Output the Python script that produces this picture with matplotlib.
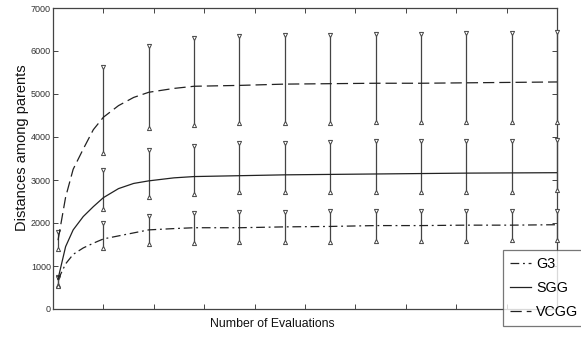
import matplotlib
matplotlib.use("Agg")
import matplotlib.pyplot as plt

plt.rcParams['font.family'] = ['Liberation Sans', 'DejaVu Sans']

# error-bar sample positions (number of evaluations)
eval_pts = [1000, 10000, 19000, 28000, 37000, 46000, 55000, 64000, 73000, 82000, 91000, 100000]

vcgg_lo = [1400, 3620, 4200, 4290, 4320, 4320, 4330, 4340, 4340, 4360, 4360, 4350]
vcgg_hi = [1800, 5620, 6110, 6300, 6350, 6380, 6370, 6390, 6390, 6420, 6420, 6440]
sgg_lo = [560, 2330, 2610, 2680, 2710, 2720, 2730, 2730, 2730, 2730, 2730, 2760]
sgg_hi = [750, 3240, 3690, 3800, 3870, 3870, 3880, 3900, 3900, 3900, 3900, 3920]
g3_lo = [540, 1420, 1520, 1540, 1560, 1560, 1560, 1580, 1590, 1590, 1610, 1600]
g3_hi = [720, 2000, 2170, 2240, 2260, 2260, 2270, 2290, 2290, 2290, 2290, 2290]

# mean curves
curve_x = [1000, 2500, 4000, 6000, 8000, 10000, 13000, 16000, 19000, 24000, 28000,
           37000, 46000, 55000, 64000, 73000, 82000, 91000, 100000]
vcgg_mean = [1600, 2600, 3250, 3720, 4170, 4460, 4730, 4920, 5040, 5130, 5180,
             5200, 5230, 5240, 5250, 5250, 5260, 5270, 5280]
sgg_mean = [700, 1450, 1840, 2150, 2380, 2590, 2800, 2920, 2980, 3050, 3080,
            3100, 3120, 3130, 3140, 3150, 3160, 3165, 3170]
g3_mean = [680, 1050, 1270, 1420, 1530, 1630, 1700, 1770, 1840, 1870, 1890,
           1890, 1910, 1920, 1940, 1940, 1950, 1950, 1960]

x_ticks = [0, 10000, 20000, 30000, 40000, 50000, 60000, 70000, 80000, 90000, 100000]
y_ticks = [0, 1000, 2000, 3000, 4000, 5000, 6000, 7000]

W, H = 581, 340
fig = plt.figure(figsize=(W / 100, H / 100), dpi=100)
ax = fig.add_axes([53 / W, 1 - 309 / H, (557 - 53) / W, (309 - 8) / H])

ink = '#222222'
bar_c = '#444444'

# error bars
for lo, hi in [(vcgg_lo, vcgg_hi), (sgg_lo, sgg_hi), (g3_lo, g3_hi)]:
    ax.vlines(eval_pts, lo, hi, colors=bar_c, linewidth=0.9, clip_on=False, zorder=2)
    ax.plot(eval_pts, hi, linestyle='none', marker='v', markersize=3.0,
            markerfacecolor='white', markeredgecolor=bar_c, markeredgewidth=0.7,
            clip_on=False, zorder=3)
    ax.plot(eval_pts, lo, linestyle='none', marker='^', markersize=3.0,
            markerfacecolor='white', markeredgecolor=bar_c, markeredgewidth=0.7,
            clip_on=False, zorder=3)

# mean curves
l_g3, = ax.plot(curve_x, g3_mean, color=ink, linewidth=0.9,
                dashes=(7, 3, 1.5, 3), label='G3', zorder=4)
l_sgg, = ax.plot(curve_x, sgg_mean, color=ink, linewidth=0.9,
                 linestyle='-', label='SGG', zorder=4)
l_vcgg, = ax.plot(curve_x, vcgg_mean, color=ink, linewidth=0.9,
                  dashes=(9, 4), label='VCGG', zorder=4)

ax.set_xlim(0, 100000)
ax.set_ylim(0, 7000)
ax.set_xticks(x_ticks)
ax.set_xticklabels([])
ax.set_yticks(y_ticks)
ax.set_yticklabels([str(v) for v in y_ticks], fontsize=6.5, color='#333333')
ax.tick_params(axis='both', direction='in', length=3.5, width=0.7, colors='#444444',
               top=True, right=True, pad=1.5, labelcolor='#333333')
for s in ax.spines.values():
    s.set_color('#444444')
    s.set_linewidth(0.9)

ax.set_ylabel('Distances among parents', fontsize=10.5, color='#111111',
              va='center', ha='center')
ax.yaxis.set_label_coords((22 - 53) / 504, (309 - 148) / 301)
ax.set_xlabel('Number of Evaluations', fontsize=8.8, color='#111111',
              va='center', ha='center')
ax.xaxis.set_label_coords((272 - 53) / 504, (309 - 324) / 301)

leg = fig.legend(handles=[l_g3, l_sgg, l_vcgg], loc='upper left',
                 bbox_to_anchor=(503 / W, 1 - 250 / H), fontsize=10.3,
                 frameon=True, fancybox=False, handlelength=1.45, handletextpad=0.35,
                 labelspacing=0.68, borderpad=0.5, borderaxespad=0)
leg.get_frame().set_edgecolor('#555555')
leg.get_frame().set_linewidth(0.9)

fig.savefig('out.png', dpi=100)
